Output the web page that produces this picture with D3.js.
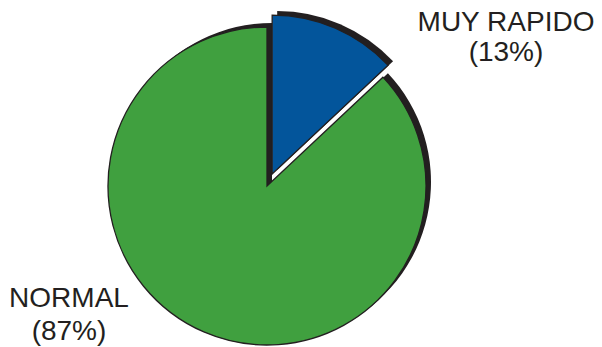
<!DOCTYPE html>
<html>
<head>
<meta charset="utf-8">
<script src="https://cdn.jsdelivr.net/npm/d3@7/dist/d3.min.js"></script>
<style>
  html, body { margin: 0; padding: 0; background: #ffffff; }
  svg { display: block; }
  text { font-family: "Liberation Sans", Arial, sans-serif; fill: #231f20; }
</style>
</head>
<body>
<svg id="chart" width="602" height="347"></svg>
<script>
// Speed categories and their shares (%)
const categories = ["MUY RAPIDO", "NORMAL"];
const values = [13, 87];
const percentLabels = ["(13%)", "(87%)"];
const colors = ["#03559b", "#40a03f"];
const explode = [13, 0];

const svg = d3.select("#chart");
const cx = 267, cy = 186, radius = 159;
const shadowDx = 5, shadowDy = -4;

const pie = d3.pie().sort(null).value(d => d.value);
const arc = d3.arc().innerRadius(0).outerRadius(radius);

const slices = pie(categories.map((c, i) => ({ name: c, value: values[i], color: colors[i], explode: explode[i], pct: percentLabels[i] })));

function offset(d) {
  const mid = (d.startAngle + d.endAngle) / 2;
  return [Math.sin(mid) * d.data.explode, -Math.cos(mid) * d.data.explode];
}

const g = svg.append("g").attr("transform", `translate(${cx},${cy})`);

// drop shadows
g.selectAll("path.shadow")
  .data(slices)
  .join("path")
  .attr("class", "shadow")
  .attr("d", arc)
  .attr("fill", "#231f20")
  .attr("transform", d => { const [x, y] = offset(d); return `translate(${x + shadowDx},${y + shadowDy})`; });

// slices
g.selectAll("path.slice")
  .data(slices)
  .join("path")
  .attr("class", "slice")
  .attr("d", arc)
  .attr("fill", d => d.data.color)
  .attr("stroke", "#231f20")
  .attr("stroke-width", 1.3)
  .attr("stroke-linejoin", "miter")
  .attr("transform", d => { const [x, y] = offset(d); return `translate(${x},${y})`; });

// labels
const labelPos = [
  { x: 506, y1: 31, y2: 61 },
  { x: 69, y1: 307, y2: 340 }
];
slices.forEach((d, i) => {
  const p = labelPos[i];
  const t = svg.append("text")
    .attr("text-anchor", "middle")
    .attr("font-size", 28);
  t.append("tspan").attr("x", p.x).attr("y", p.y1).text(d.data.name);
  t.append("tspan").attr("x", p.x).attr("y", p.y2).text(d.data.pct);
});
</script>
</body>
</html>
